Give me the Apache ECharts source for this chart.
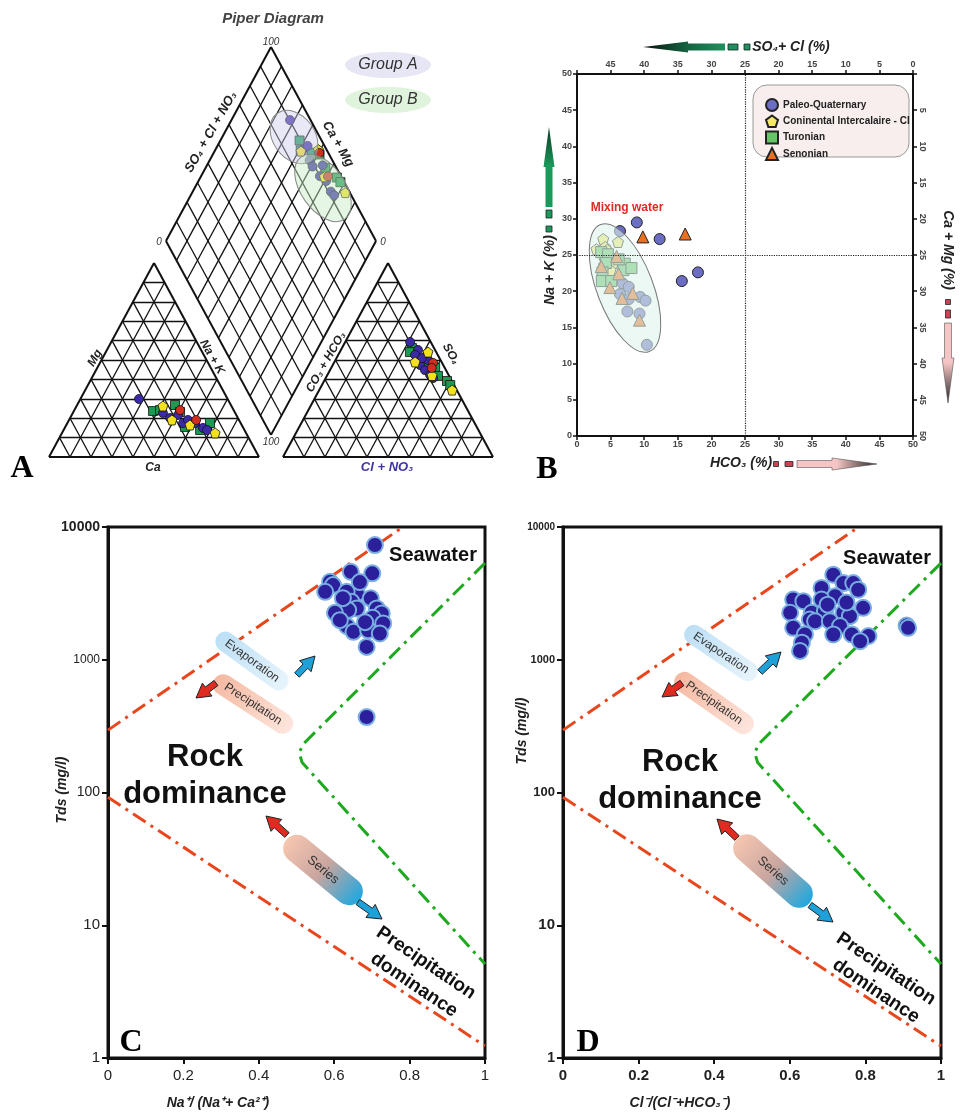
<!DOCTYPE html>
<html><head><meta charset="utf-8">
<script src="https://cdn.jsdelivr.net/npm/echarts@6/dist/echarts.min.js"></script>
<style>html,body{margin:0;padding:0;background:#fff}#c{width:960px;height:1115px}</style>
</head><body><div id="c"></div>
<script>
// ================= DATA =================
// Panel A - Piper diagram. cations: [Na+K %, Mg %] (Ca = remainder); anions: [Cl+NO3 %, SO4 %] (HCO3 = remainder)
const piperCatPQ  = [[27.9,29.9],[42.9,22.7],[47.6,20.1],[50.6,21.7],[55.1,17.5],[56.6,19.1],[60.8,17.5],[65.8,15.0],[68.3,13.9]];
const piperAnPQ   = [[30.9,59.3],[36.7,55.2],[36.6,52.6],[41.6,47.4],[44.1,50.0],[45.2,44.8],[40.7,51.0],[48.9,42.3],[51.1,40.7]];
const piperCatCI  = [[41.1,26.3],[49.0,19.1],[58.9,16.5],[72.9,12.4]];
const piperAnCI   = [[38.4,49.0],[42.0,54.1],[50.0,42.0],[63.3,34.5]];
const piperCatTur = [[37.7,23.7],[40.8,24.2],[46.6,26.8],[50.8,23.2],[57.0,15.5],[65.0,13.9],[67.9,17.5]];
const piperAnTur  = [[33.3,56.2],[33.4,54.1],[43.1,49.0],[49.5,45.9],[52.9,41.8],[58.5,39.2],[61.1,37.1]];
const piperCatSen = [[50.3,24.2],[60.5,19.1]];
const piperAnSen  = [[47.2,48.5],[47.9,45.9]];

// Panel B - [HCO3 %, Na+K %]
const bPQ  = [[8.9,29.5],[12.3,27.2],[15.6,21.4],[18.0,22.6],[6.4,28.3],[6.8,21.1],[7.7,20.6],[6.4,19.6],[7.7,18.9],[9.4,19.2],[10.2,18.7],[7.5,17.2],[9.3,16.9],[10.4,12.6]];
const bCI  = [[3.9,27.2],[6.1,26.8],[2.9,25.8],[4.2,26.1],[3.9,25.0],[4.5,25.7],[5.0,24.3],[5.4,23.9],[5.0,22.9],[4.0,23.6]];
const bTur = [[3.6,25.4],[4.6,25.1],[4.3,23.9],[3.8,22.6],[3.7,21.4],[5.1,21.4],[7.1,23.8],[6.9,22.9],[8.1,23.2],[6.2,24.4]];
const bSen = [[9.8,27.5],[16.1,27.9],[3.6,23.4],[5.9,24.8],[4.9,20.5],[6.2,22.4],[6.7,19.0],[8.3,19.7],[9.3,16.0]];

// Panel C - [Na/(Na+Ca), TDS mg/l]
const cData = [[0.708,7310],[0.644,4600],[0.701,4475],[0.589,3865],[0.597,3650],[0.576,3250],[0.660,3160],[0.633,3250],[0.697,2900],[0.646,2730],[0.660,2435],[0.637,2365],[0.602,2255],[0.713,2435],[0.726,2235],[0.702,2070],[0.730,1877],[0.634,1790],[0.651,1622],[0.690,1670],[0.721,1578],[0.686,1250],[0.686,370],[0.623,2912],[0.682,1919],[0.668,3846],[0.615,1987]];
// Panel D - [Cl/(Cl+HCO3), TDS mg/l]
const dData = [[0.715,4370],[0.742,3780],[0.768,3780],[0.781,3370],[0.684,3475],[0.720,3010],[0.609,2840],[0.636,2760],[0.684,2840],[0.794,2460],[0.601,2260],[0.658,2260],[0.693,2320],[0.742,2260],[0.759,2130],[0.653,2010],[0.667,1950],[0.706,1950],[0.733,1795],[0.609,1740],[0.640,1550],[0.715,1550],[0.764,1550],[0.808,1510],[0.786,1380],[0.632,1345],[0.627,1165],[0.909,1810],[0.913,1740],[0.700,2600],[0.750,2700]];
// Gibbs boundary curves
const gibbsUpper = [[0,295],[0.782,10000]];
const gibbsLower = [[0,92],[1,1.23]];
const gibbsGreen = [[1,5350],[0.52,235],[0.507,200],[0.515,168],[1,5.1]];

// ================= HELPERS =================
const FONT = '"Liberation Sans", Arial, Helvetica, sans-serif';
const SERIF = '"Liberation Serif", "Times New Roman", serif';
const PENT = 'path://M0,-10L9.51,-3.09L5.88,8.09L-5.88,8.09L-9.51,-3.09Z';
const H = 86.6025, GAP = 11.4, RX = 100 + GAP;
const DB = [100 + GAP / 2, GAP * H / 100];
const rad = d => d * Math.PI / 180;

// Piper grid segments
const gridSegs = [], edgeSegs = [];
function tri(ox) {
  for (let i = 1; i < 10; i++) {
    gridSegs.push([[ox + 5 * i, H * i / 10], [ox + 100 - 5 * i, H * i / 10]]);
    gridSegs.push([[ox + 10 * i, 0], [ox + 50 + 5 * i, H * (1 - i / 10)]]);
    gridSegs.push([[ox + 10 * i, 0], [ox + 5 * i, H * i / 10]]);
  }
  edgeSegs.push([[ox, 0], [ox + 100, 0]], [[ox, 0], [ox + 50, H]], [[ox + 100, 0], [ox + 50, H]]);
}
tri(0); tri(RX);
const uL = [-50, H], uR = [50, H];
for (let i = 1; i < 10; i++) {
  const t = i / 10;
  const p1 = [DB[0] + t * uR[0], DB[1] + t * uR[1]];
  gridSegs.push([p1, [p1[0] + uL[0], p1[1] + uL[1]]]);
  const p2 = [DB[0] + t * uL[0], DB[1] + t * uL[1]];
  gridSegs.push([p2, [p2[0] + uR[0], p2[1] + uR[1]]]);
}
const Lv = [DB[0] + uL[0], DB[1] + uL[1]], Rv = [DB[0] + uR[0], DB[1] + uR[1]], Tv = [DB[0], DB[1] + 2 * H];
edgeSegs.push([DB, Lv], [DB, Rv], [Lv, Tv], [Rv, Tv]);

function piperPoints(cat, an) {
  const tri = [], dia = [];
  cat.forEach(([na, mg]) => tri.push([na + mg / 2, mg * H / 100]));
  an.forEach(([cl, so4]) => tri.push([RX + cl + so4 / 2, so4 * H / 100]));
  cat.forEach(([na], i) => {
    const c = (100 - na) / 100, a = (an[i][0] + an[i][1]) / 100;
    dia.push([DB[0] + 50 * (a - c), DB[1] + H * (a + c)]);
  });
  return { tri, dia };
}
const pPQ = piperPoints(piperCatPQ, piperAnPQ), pCI = piperPoints(piperCatCI, piperAnCI),
      pTur = piperPoints(piperCatTur, piperAnTur), pSen = piperPoints(piperCatSen, piperAnSen);

function T(x, y, text, o) {
  o = o || {};
  return { type: 'text', x: x, y: y, rotation: rad(o.rot || 0), z: o.z || 20, silent: true,
    style: { text: text, align: o.align || 'center', verticalAlign: 'middle', fontSize: o.fs || 12,
      fontWeight: o.fw || 'normal', fontStyle: o.fst || 'normal', fontFamily: o.ff || FONT, fill: o.color || '#222' } };
}
function arrowPts(tx, ty, hx, hy, sw, hw, hl) {
  const dx = hx - tx, dy = hy - ty, L = Math.hypot(dx, dy), ux = dx / L, uy = dy / L, px = -uy, py = ux;
  const bx = hx - ux * hl, by = hy - uy * hl;
  return [[tx + px * sw, ty + py * sw], [bx + px * sw, by + py * sw], [bx + px * hw, by + py * hw], [hx, hy],
          [bx - px * hw, by - py * hw], [bx - px * sw, by - py * sw], [tx - px * sw, ty - py * sw]];
}
function fatArrow(tx, ty, hx, hy, color) {
  return { type: 'polygon', z: 20, silent: true, shape: { points: arrowPts(tx, ty, hx, hy, 3.2, 8, 14) },
    style: { fill: color, stroke: '#222', lineWidth: 1 } };
}
function LG(x, y, x2, y2, stops) { return new echarts.graphic.LinearGradient(x, y, x2, y2, stops.map((c, i) => ({ offset: i / (stops.length - 1), color: c }))); }
function pill(cx, cy, len, h, ang, grad, text, fs) {
  return { type: 'group', x: cx, y: cy, rotation: rad(ang), z: 20, silent: true, children: [
    { type: 'rect', z: 20, shape: { x: -len / 2, y: -h / 2, width: len, height: h, r: h / 2 }, style: { fill: grad } },
    { type: 'text', z: 21, x: 0, y: 0, style: { text: text, align: 'center', verticalAlign: 'middle', fontSize: fs, fontFamily: FONT, fill: '#333' } }
  ] };
}
function sq(x, y, w, h, fill) { return { type: 'rect', z: 20, silent: true, shape: { x: x - w / 2, y: y - h / 2, width: w, height: h }, style: { fill: fill, stroke: '#222', lineWidth: 0.8 } }; }

// ================= GRAPHIC DECORATIONS =================
const g = [];
// Panel A labels
g.push(T(273, 19, 'Piper Diagram', { fs: 15, fw: 'bold', fst: 'italic', color: '#444' }));
g.push(T(271, 42, '100', { fs: 10, fst: 'italic', color: '#333' }));
g.push(T(159, 242, '0', { fs: 10, fst: 'italic', color: '#333' }));
g.push(T(383, 242, '0', { fs: 10, fst: 'italic', color: '#333' }));
g.push(T(271, 442, '100', { fs: 10, fst: 'italic', color: '#333' }));
g.push(T(211, 132, 'SO₄ + Cl + NO₃', { fs: 13, fw: 'bold', fst: 'italic', rot: 60, color: '#222' }));
g.push(T(338, 144, 'Ca + Mg', { fs: 13, fw: 'bold', fst: 'italic', rot: -60, color: '#222' }));
g.push(T(95, 358, 'Mg', { fs: 12, fw: 'bold', fst: 'italic', rot: 60 }));
g.push(T(212, 357, 'Na + K', { fs: 12, fw: 'bold', fst: 'italic', rot: -60 }));
g.push(T(153, 468, 'Ca', { fs: 12, fw: 'bold', fst: 'italic' }));
g.push(T(326, 362, 'CO₃ + HCO₃', { fs: 12, fw: 'bold', fst: 'italic', rot: 60 }));
g.push(T(451, 354, 'SO₄', { fs: 12, fw: 'bold', fst: 'italic', rot: -60 }));
g.push(T(387, 467, 'Cl + NO₃', { fs: 13, fw: 'bold', fst: 'italic', color: '#3d33a3' }));
g.push({ type: 'ellipse', z: 5, silent: true, shape: { cx: 388, cy: 65, rx: 43, ry: 13 }, style: { fill: '#e6e6f5' } });
g.push({ type: 'ellipse', z: 5, silent: true, shape: { cx: 388, cy: 100, rx: 43, ry: 13 }, style: { fill: '#e0f3dc' } });
g.push(T(388, 65, 'Group A', { fs: 16, fst: 'italic', color: '#333' }));
g.push(T(388, 100, 'Group B', { fs: 16, fst: 'italic', color: '#333' }));
g.push({ type: 'ellipse', z: 10, silent: true, x: 294, y: 137, rotation: rad(-55), shape: { cx: 0, cy: 0, rx: 29, ry: 21 }, style: { fill: 'rgba(205,205,238,0.45)', stroke: '#888', lineWidth: 1 } });
g.push({ type: 'ellipse', z: 10, silent: true, x: 323, y: 188, rotation: rad(-55), shape: { cx: 0, cy: 0, rx: 38, ry: 22 }, style: { fill: 'rgba(200,235,195,0.45)', stroke: '#888', lineWidth: 1 } });
g.push(T(22, 469, 'A', { fs: 32, fw: 'bold', ff: SERIF, color: '#000' }));

// Panel B decorations
g.push({ type: 'rect', z: 3, silent: true, shape: { x: 753, y: 85, width: 156, height: 72, r: 14 }, style: { fill: '#f8eeee', stroke: '#999', lineWidth: 1 } });
g.push({ type: 'ellipse', z: 10, silent: true, x: 625, y: 288, rotation: rad(-69), shape: { cx: 0, cy: 0, rx: 68, ry: 28 }, style: { fill: 'rgba(222,243,236,0.6)', stroke: '#777', lineWidth: 1 } });
g.push(T(627, 208, 'Mixing water', { fs: 12, fw: 'bold', color: '#e02a20' }));
g.push(T(791, 47, 'SO₄+ Cl (%)', { fs: 14, fw: 'bold', fst: 'italic', color: '#222' }));
g.push({ type: 'polygon', z: 20, silent: true, shape: { points: arrowPts(725, 47, 643, 47, 3.5, 5.5, 45) }, style: { fill: LG(0, 0, 1, 0, ['#07130e', '#145e3e', '#1f8f5f']) } });
g.push(sq(733, 47, 10, 6, '#1f8f5f'), sq(747, 47, 6, 6, '#1f8f5f'));
g.push(T(550, 270, 'Na + K (%)', { fs: 14, fw: 'bold', fst: 'italic', rot: 90, color: '#222' }));
g.push({ type: 'polygon', z: 20, silent: true, shape: { points: arrowPts(549, 207, 549, 127, 3.5, 5.5, 40) }, style: { fill: LG(0, 0, 0, 1, ['#0c3a24', '#1a9a5a', '#1a9a5a']) } });
g.push(sq(549, 214, 6, 8, '#1a9a5a'), sq(549, 229, 6, 6, '#1a9a5a'));
g.push(T(948, 250, 'Ca + Mg (%)', { fs: 14, fw: 'bold', fst: 'italic', rot: -90, color: '#222' }));
g.push(sq(948, 302, 5, 5, '#d04055'), sq(948, 314, 5, 8, '#d04055'));
g.push({ type: 'polygon', z: 20, silent: true, shape: { points: arrowPts(948, 323, 948, 403, 3.5, 6, 45) }, style: { fill: LG(0, 0, 0, 1, ['#f5c4c4', '#f5c4c4', '#222']), stroke: '#555', lineWidth: 0.6 } });
g.push(T(741, 463, 'HCO₃ (%)', { fs: 14, fw: 'bold', fst: 'italic', color: '#222' }));
g.push(sq(776, 464, 5, 5, '#d04055'), sq(789, 464, 8, 5, '#d04055'));
g.push({ type: 'polygon', z: 20, silent: true, shape: { points: arrowPts(797, 464, 877, 464, 3.5, 6, 45) }, style: { fill: LG(0, 0, 1, 0, ['#f5c4c4', '#f5c4c4', '#222']), stroke: '#555', lineWidth: 0.6 } });
g.push(T(547, 470, 'B', { fs: 32, fw: 'bold', ff: SERIF, color: '#000' }));

// Panels C / D decorations
function gibbsDeco(o) {
  g.push(T(o.sea[0], o.sea[1], 'Seawater', { fs: 20, fw: 'bold', color: '#111' }));
  g.push(pill(o.evap[0], o.evap[1], o.evap[2], 20, -o.evap[3], LG(0, 0, 1, 0, ['#bcdff5', '#e8f4fc']), 'Evaporation', 12));
  g.push(pill(o.prec[0], o.prec[1], o.prec[2], 21, -o.prec[3], LG(0, 0, 1, 0, ['#f5b8a0', '#fde6dd']), 'Precipitation', 12));
  g.push(fatArrow(o.a1[0], o.a1[1], o.a1[2], o.a1[3], '#e02b20'));
  g.push(fatArrow(o.a2[0], o.a2[1], o.a2[2], o.a2[3], '#1ea0d8'));
  g.push(T(o.rock[0], o.rock[1], 'Rock', { fs: 31, fw: 'bold', color: '#111' }));
  g.push(T(o.rock[0], o.rock[1] + 37, 'dominance', { fs: 31, fw: 'bold', color: '#111' }));
  g.push(fatArrow(o.a3[0], o.a3[1], o.a3[2], o.a3[3], '#e02b20'));
  g.push(pill(o.ser[0], o.ser[1], o.ser[2], 28, o.ser[3], LG(0, 0, 1, 0, ['#f6c6b0', '#c9a6a0', '#1ea8e0']), 'Series', 13));
  g.push(fatArrow(o.a4[0], o.a4[1], o.a4[2], o.a4[3], '#1ea0d8'));
  g.push(T(o.pd[0], o.pd[1], 'Precipitation', { fs: 19, fw: 'bold', rot: -34, color: '#111' }));
  g.push(T(o.pd[2], o.pd[3], 'dominance', { fs: 19, fw: 'bold', rot: -34, color: '#111' }));
  g.push(T(o.lab[0], o.lab[1], o.lab[2], { fs: 32, fw: 'bold', ff: SERIF, color: '#000' }));
  g.push(T(o.ytl[0], o.ytl[1], 'Tds (mg/l)', { fs: 14, fw: 'bold', fst: 'italic', rot: 90, color: '#222' }));
  g.push(T(o.xtl[0], o.xtl[1], o.xtl[2], { fs: 14, fw: 'bold', fst: 'italic', color: '#222' }));
}
gibbsDeco({ sea: [433, 555], evap: [252, 661, 86, 36], prec: [253, 704, 92, 33], a1: [216, 683, 196, 698], a2: [297, 675, 315, 656],
  rock: [205, 757], a3: [287, 835, 266, 816], ser: [323, 870, 95, -39.5], a4: [358, 902, 382, 919],
  pd: [426, 963, 414, 985], lab: [131, 1043, 'C'], ytl: [62, 790], xtl: [218, 1103, 'Na⁺/ (Na⁺+ Ca²⁺)'] });
gibbsDeco({ sea: [887, 558], evap: [721, 653, 85, 34], prec: [714, 703, 93, 35], a1: [682, 683, 662, 697], a2: [760, 672, 781, 652],
  rock: [680, 762], a3: [737, 838, 717, 819], ser: [773, 871, 97, -41.5], a4: [810, 905, 833, 922],
  pd: [886, 969, 876, 991], lab: [588, 1043, 'D'], ytl: [522, 731], xtl: [680, 1103, 'Cl⁻/(Cl⁻+HCO₃⁻)'] });

// ================= CHART =================
const axB = (o) => Object.assign({ gridIndex: 1, type: 'value', min: 0, max: 50, interval: 5,
  axisLine: { show: true, lineStyle: { color: '#111', width: 2 } },
  axisTick: { show: true, inside: false, length: 4, lineStyle: { color: '#111', width: 1.5 } },
  axisLabel: { fontSize: 9, fontWeight: 'bold', color: '#444', margin: 4, fontFamily: FONT },
  splitLine: { show: false } }, o);
const axCx = (gi, bold) => ({ gridIndex: gi, type: 'value', min: 0, max: 1, interval: 0.2,
  axisLine: { show: true, onZero: false, lineStyle: { color: '#111', width: 3 } },
  axisTick: { show: true, length: 6, lineStyle: { color: '#111', width: 2 } },
  axisLabel: { fontSize: 15, fontWeight: bold ? 'bold' : 'normal', color: '#222', margin: 10, fontFamily: FONT },
  splitLine: { show: false } });
const axCy = (gi, sizes, bold) => ({ gridIndex: gi, type: 'log', logBase: 10, min: 1, max: 10000,
  axisLine: { show: true, lineStyle: { color: '#111', width: 3 } },
  axisTick: { show: true, length: 6, lineStyle: { color: '#111', width: 2 } },
  minorTick: { show: false },
  axisLabel: { margin: 8, color: '#222', fontFamily: FONT, formatter: v => '{s' + Math.round(v) + '|' + Math.round(v) + '}',
    rich: Object.fromEntries([1, 10, 100, 1000, 10000].map((v, i) => ['s' + v, { fontSize: sizes[i], fontWeight: (bold || v === 10000) ? 'bold' : 'normal', fontFamily: FONT, color: '#222' }])) },
  splitLine: { show: false } });

const scatB = (name, data, sym, color, extra) => Object.assign({ type: 'scatter', name: name, xAxisIndex: 1, yAxisIndex: 1, data: data,
  symbol: sym, symbolSize: sym === 'triangle' ? 12 : 11, z: 5,
  itemStyle: { color: color, borderColor: '#222', borderWidth: 1, opacity: 1 } }, extra || {});
const scatP = (name, pts, sym, color) => ({ type: 'scatter', name: name, xAxisIndex: 0, yAxisIndex: 0,
  data: pts.tri.concat(pts.dia), symbol: sym, symbolSize: sym === PENT ? 10 : 9, z: 5,
  itemStyle: { color: color, borderColor: '#111', borderWidth: 0.8, opacity: 1 } });
const gLine = (gi, data, color) => ({ type: 'line', xAxisIndex: gi, yAxisIndex: gi, data: data, symbol: 'none', silent: true, z: 3,
  lineStyle: { color: color, width: 3, type: [15, 6, 3, 6] } });
const scatG = (gi, data) => ({ type: 'scatter', xAxisIndex: gi, yAxisIndex: gi, data: data, symbolSize: 16, z: 6,
  itemStyle: { color: '#2c1f9c', borderColor: '#78aee0', borderWidth: 2, opacity: 1 } });

const option = {
  backgroundColor: '#fff',
  animation: false,
  textStyle: { fontFamily: FONT },
  grid: [
    { left: 49, top: 47, width: 444, height: 410, show: false },
    { left: 577, top: 74, width: 336, height: 362, show: true, borderColor: '#111', borderWidth: 2 },
    { left: 108, top: 527, width: 377, height: 531, show: true, borderColor: '#111', borderWidth: 3 },
    { left: 563, top: 527, width: 378, height: 531, show: true, borderColor: '#111', borderWidth: 3 }
  ],
  xAxis: [
    { gridIndex: 0, type: 'value', min: 0, max: 200 + GAP, show: false },
    axB({ position: 'bottom' }),
    axB({ position: 'top', inverse: true, axisLabel: { fontSize: 9, fontWeight: 'bold', color: '#444', margin: 5, fontFamily: FONT, formatter: v => v === 50 ? '' : String(v) } }),
    axCx(2, false),
    axCx(3, true)
  ],
  yAxis: [
    { gridIndex: 0, type: 'value', min: 0, max: DB[1] + 2 * H, show: false },
    axB({ position: 'left', axisLabel: { fontSize: 9, fontWeight: 'bold', color: '#444', margin: 5, fontFamily: FONT } }),
    axB({ position: 'right', inverse: true, axisLabel: { fontSize: 9, fontWeight: 'bold', color: '#444', margin: 5, rotate: -90, fontFamily: FONT, formatter: v => v === 0 ? '' : String(v) } }),
    axCy(2, [15, 15, 14, 12, 14], false),
    axCy(3, [14, 15, 13, 11, 10], true)
  ],
  legend: {
    data: ['Paleo-Quaternary', 'Coninental Intercalaire - CI', 'Turonian', 'Senonian'],
    orient: 'vertical', left: 760, top: 93, itemWidth: 12, itemHeight: 12, itemGap: 2.5, selectedMode: false, z: 6,
    textStyle: { fontSize: 10, fontWeight: 'bold', color: '#222', fontFamily: FONT }
  },
  graphic: { elements: g },
  series: [
    { type: 'lines', coordinateSystem: 'cartesian2d', xAxisIndex: 0, yAxisIndex: 0, silent: true, z: 1,
      data: gridSegs.map(s => ({ coords: s })), lineStyle: { color: '#111', width: 1.3, opacity: 1 } },
    { type: 'lines', coordinateSystem: 'cartesian2d', xAxisIndex: 0, yAxisIndex: 0, silent: true, z: 2,
      data: edgeSegs.map(s => ({ coords: s })), lineStyle: { color: '#111', width: 2, opacity: 1 } },
    scatP('pTur', pTur, 'rect', '#1c9a52'),
    scatP('pPQ', pPQ, 'circle', '#3b2aa8'),
    scatP('pCI', pCI, PENT, '#f2e21e'),
    scatP('pSen', pSen, 'circle', '#d22d1f'),
    scatB('Paleo-Quaternary', bPQ, 'circle', '#6b6ec2', {
      markLine: { silent: true, symbol: ['none', 'none'], label: { show: false }, z: 11,
        lineStyle: { type: 'dotted', color: '#222', width: 1.2 }, data: [{ xAxis: 25 }, { yAxis: 25 }] } }),
    scatB('Coninental Intercalaire - CI', bCI, PENT, '#f5e86a'),
    scatB('Turonian', bTur, 'rect', '#66c466'),
    scatB('Senonian', bSen, 'triangle', '#e8701e'),
    gLine(3, gibbsUpper, '#e8461c'), gLine(3, gibbsLower, '#e8461c'), gLine(3, gibbsGreen, '#1eaa1e'),
    gLine(4, gibbsUpper, '#e8461c'), gLine(4, gibbsLower, '#e8461c'), gLine(4, gibbsGreen, '#1eaa1e'),
    scatG(3, cData), scatG(4, dData)
  ]
};
const chart = echarts.init(document.getElementById('c'), null, { renderer: 'canvas' });
chart.setOption(option);
</script>
</body></html>
